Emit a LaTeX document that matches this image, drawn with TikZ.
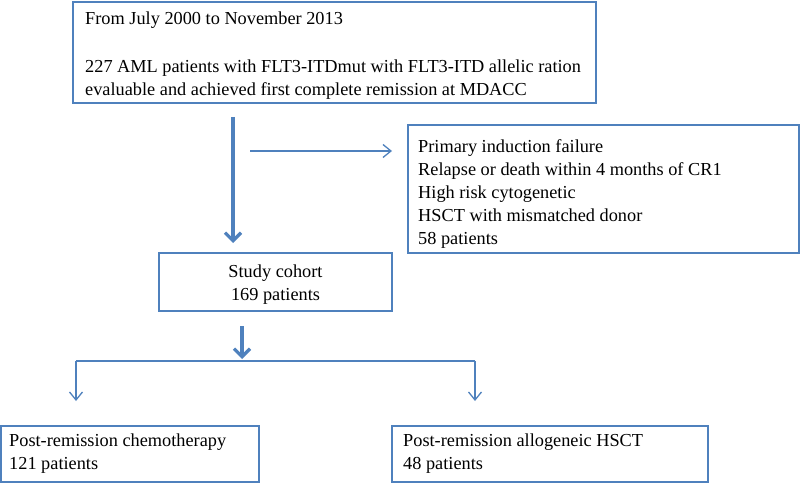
\documentclass[tikz,border=0pt]{standalone}
\usepackage{fontspec}
\setmainfont{Liberation Serif}
\usetikzlibrary{arrows.meta}
\definecolor{ofblue}{RGB}{79,129,189}
\tikzset{
  box/.style={draw=ofblue, line width=1.2pt, inner sep=0pt},
  txt/.style={inner sep=0pt, font=\fontsize{18.3}{23}\selectfont, align=left, anchor=west},
  thinarr/.style={draw=ofblue, line width=1.3pt, -{Straight Barb[length=8pt,width=13pt]}},
  thickarr/.style={draw=ofblue, line width=3.2pt, -{Straight Barb[length=8pt,width=16pt]}},
  thinline/.style={draw=ofblue, line width=1.3pt},
}
\begin{document}
\begin{tikzpicture}[x=1pt,y=-1pt]
\useasboundingbox (0,0) rectangle (800,484);
\node[box, minimum width=523pt, minimum height=101pt] (top) at (334.5,52.5) {};
\node[txt] (toptext) at (85,56)
 {From July 2000 to November 2013\\[25pt]227 AML patients with FLT3-ITDmut with FLT3-ITD allelic ration\\evaluable and achieved first complete remission at MDACC};
\node[box, minimum width=391pt, minimum height=128pt] (excl) at (603.5,189) {};
\node[txt] (excltext) at (418,194)
 {Primary induction failure\\Relapse or death within 4 months of CR1\\High risk cytogenetic\\HSCT with mismatched donor\\58 patients};
\node[box, minimum width=233pt, minimum height=58pt] (cohort) at (275.5,282) {};
\node[txt, align=center, anchor=center] (cohorttext) at (275.5,285) {Study cohort\\169 patients};
\node[box, minimum width=258pt, minimum height=56pt] (chemo) at (130,454) {};
\node[txt] (chemotext) at (9,454)
 {Post-remission chemotherapy\\121 patients};
\node[box, minimum width=316pt, minimum height=56pt] (hsct) at (550,454) {};
\node[txt] (hscttext) at (403,454)
 {Post-remission allogeneic HSCT\\48 patients};
\coordinate (a1) at (233,117);
\coordinate (a2) at (233,243);
\coordinate (b1) at (250,151);
\coordinate (b2) at (392,151);
\coordinate (c1) at (242,326);
\coordinate (c2) at (242,359);
\coordinate (dl) at (76,361);
\coordinate (dr) at (475,361);
\coordinate (el) at (76,401);
\coordinate (er) at (475,401);
\draw[thickarr] (a1) -- (a2);
\draw[thinarr] (b1) -- (b2);
\draw[thickarr] (c1) -- (c2);
\draw[thinline] (dl) -- (dr);
\draw[thinarr] (dl) -- (el);
\draw[thinarr] (dr) -- (er);
\end{tikzpicture}
\end{document}
